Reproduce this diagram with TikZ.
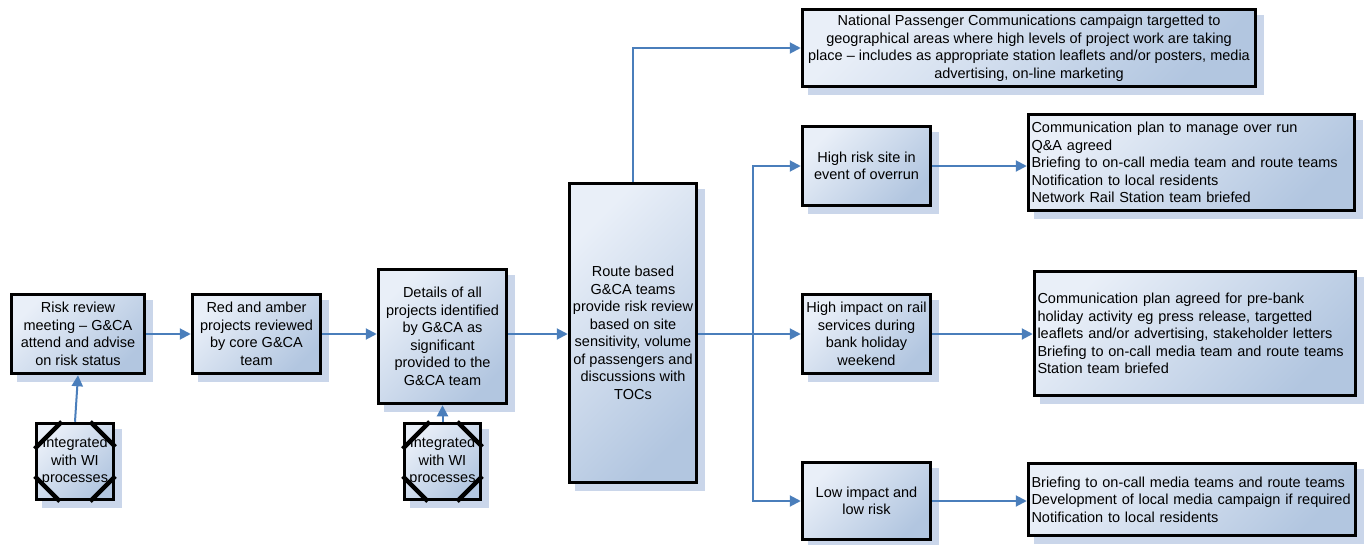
\documentclass[tikz,border=0pt]{standalone}
\usepackage{fontspec}
\setmainfont{Liberation Sans}
\usetikzlibrary{arrows.meta,backgrounds}
\definecolor{lineblue}{HTML}{4A7EBB}
\definecolor{boxlight}{HTML}{E9EFF8}
\definecolor{boxdark}{HTML}{B2C6E0}
\definecolor{shadowblue}{HTML}{CAD6EA}
\begin{document}
\begin{tikzpicture}[x=1pt,y=-1pt,
  box/.style={draw=black, line width=3.5pt, top color=boxlight, bottom color=boxdark,
    shading angle=45, inner sep=3pt, font=\fontsize{14.5}{17.5}\selectfont, align=center},
  lbox/.style={box, align=left},
  conn/.style={draw=lineblue, line width=2pt},
  arr/.style={conn, -{Triangle[length=11pt,width=11pt]}},
  cut/.style={draw=black, line width=4.5pt},
  shadowfill/.style={fill=shadowblue},
]
\useasboundingbox (0,0) rectangle (1371,544);

\node[box, minimum width=133pt, minimum height=79pt] (risk) at (78,334)
  {Risk review\\meeting -- G\&CA\\attend and advise\\on risk status};
\node[box, minimum width=128pt, minimum height=79pt] (red) at (256.5,334)
  {Red and amber\\projects reviewed\\by core G\&CA\\team};
\node[box, minimum width=128pt, minimum height=134pt] (det) at (442.5,336.5)
  {Details of all\\projects identified\\by G\&CA as\\significant\\provided to the\\G\&CA team};
\node[box, minimum width=127pt, minimum height=299pt] (route) at (633,333)
  {Route based\\G\&CA teams\\provide risk review\\based on site\\sensitivity, volume\\of passengers and\\discussions with\\TOCs};
\node[box, minimum width=453pt, minimum height=77pt] (nat) at (1029,48)
  {National Passenger Communications campaign targetted to\\geographical areas where high levels of project work are taking\\place -- includes as appropriate station leaflets and/or posters, media\\advertising, on-line marketing};
\node[box, minimum width=128pt, minimum height=79pt] (hr) at (866.5,166)
  {High risk site in\\event of overrun};
\node[lbox, minimum width=326pt, minimum height=96pt, text width=320pt] (cp1) at (1191.5,162.5)
  {Communication plan to manage over run\\Q\&A agreed\\Briefing to on-call media team and route teams\\Notification to local residents\\Network Rail Station team briefed};
\node[box, minimum width=128pt, minimum height=79pt] (hi) at (866.5,334)
  {High impact on rail\\services during\\bank holiday\\weekend};
\node[lbox, minimum width=321pt, minimum height=124pt, text width=315pt] (cp2) at (1195,333.5)
  {Communication plan agreed for pre-bank\\holiday activity eg press release, targetted\\leaflets and/or advertising, stakeholder letters\\Briefing to on-call media team and route teams\\Station team briefed};
\node[box, minimum width=128pt, minimum height=77pt] (li) at (866.5,501)
  {Low impact and\\low risk};
\node[lbox, minimum width=327pt, minimum height=72pt, text width=321pt] (cp3) at (1192,499.5)
  {Briefing to on-call media teams and route teams\\Development of local media campaign if required\\Notification to local residents};

\node[box, minimum width=77pt, minimum height=76pt] (int1) at (75,461.5)
  {Integrated\\with WI\\processes};
\node[box, minimum width=76pt, minimum height=76pt] (int2) at (442.5,461.5)
  {Integrated\\with WI\\processes};
\foreach \n in {int1,int2}{
  \draw[cut] ([xshift=27pt]\n.north west) -- ([yshift=-27pt]\n.north west);
  \draw[cut] ([xshift=-25pt]\n.north east) -- ([yshift=-25pt]\n.north east);
  \draw[cut] ([xshift=25pt]\n.south west) -- ([yshift=25pt]\n.south west);
  \draw[cut] ([xshift=-25pt]\n.south east) -- ([yshift=25pt]\n.south east);
}

\begin{scope}[on background layer]
\foreach \n in {risk,red,det,route,nat,hr,cp1,hi,cp2,li,cp3,int1,int2}{
  \fill[shadowfill] ([xshift=7pt,yshift=-7pt]\n.north west) rectangle ([xshift=7pt,yshift=-7pt]\n.south east);
}
\end{scope}

\coordinate (br) at (753,334);
\draw[arr] (risk.east) -- (red.west);
\draw[arr] (red.east) -- (red.east -| det.west);
\draw[arr] (red.east -| det.east) -- (red.east -| route.west);
\draw[arr] (int1.north) -- (risk.south);
\draw[arr] (int2.north) -- (det.south);
\draw[arr] (route.north) |- (nat.west);
\draw[conn] (br -| route.east) -- (br);
\draw[arr] (br) |- (hr.west);
\draw[arr] (br) -- (hi.west);
\draw[arr] (br) |- (li.west);
\draw[arr] (hr.east) -- (hr.east -| cp1.west);
\draw[arr] (hi.east) -- (hi.east -| cp2.west);
\draw[arr] (li.east) -- (li.east -| cp3.west);
\end{tikzpicture}
\end{document}
